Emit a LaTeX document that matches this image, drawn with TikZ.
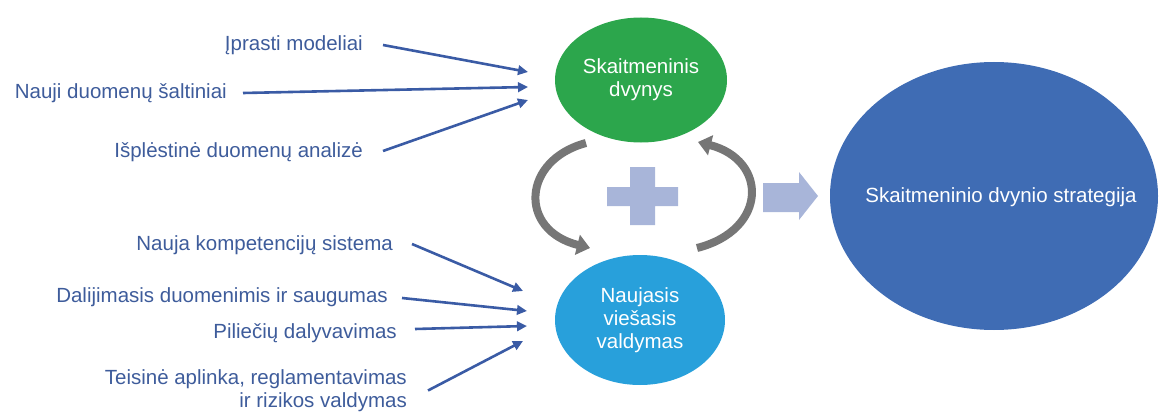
\documentclass[tikz,border=0pt]{standalone}
\usepackage{fontspec}
\setmainfont{Liberation Sans}
\usetikzlibrary{shapes.geometric,arrows.meta}
\definecolor{txtblue}{RGB}{62,92,155}
\definecolor{arrblue}{RGB}{58,91,165}
\definecolor{twgreen}{RGB}{44,166,76}
\definecolor{pubblue}{RGB}{40,160,219}
\definecolor{stratblue}{RGB}{63,108,180}
\definecolor{plusblue}{RGB}{168,181,217}
\definecolor{cyclegray}{RGB}{118,118,118}
\tikzset{
  lbl/.style={inner sep=0pt, text=txtblue, font=\fontsize{20.5}{23}\selectfont, text height=15.4pt, text depth=4.1pt, anchor=east},
  lbl2/.style={inner sep=0pt, text=txtblue, font=\fontsize{20.5}{23}\selectfont, align=right, anchor=east},
  conn/.style={draw=arrblue, line width=2.6pt, -{Triangle[length=10pt,width=9.5pt]}},
  blob/.style={ellipse, inner sep=0pt, text=white, align=center, font=\fontsize{20.5}{23}\selectfont},
  blobtext/.style={inner sep=0pt, text=white, align=center, font=\fontsize{20.5}{23}\selectfont},
  cyc/.style={draw=cyclegray, line width=8pt, -{Triangle[length=13pt,width=20pt]}},
  flat/.style={fill=plusblue, draw=none}
}
\begin{document}
\begin{tikzpicture}[x=1pt,y=-1pt]
\useasboundingbox (0,0) rectangle (1160,412);
% central nodes
\node[blob, fill=twgreen, minimum width=172pt, minimum height=125pt] (tw) at (641,80) {Skaitmeninis\\dvynys};
\node[blob, fill=pubblue, minimum width=170pt, minimum height=130pt] (pub) at (640,320) {Naujasis\\viešasis\\valdymas};
\node[blob, fill=stratblue, minimum width=328pt, minimum height=268pt] (strat) at (994,196) {};
\node[blobtext] (stratlbl) at ([xshift=7pt,yshift=-1pt]strat.center) {Skaitmeninio dvynio strategija};
% plus sign
\fill[flat] (630,167) -- (655,167) -- (655,187) -- (678,187) -- (678,206) -- (655,206) -- (655,225) -- (630,225) -- (630,206) -- (607,206) -- (607,187) -- (630,187) -- cycle;
% block arrow
\fill[flat] (763,183) -- (799,183) -- (799,172) -- (818,196) -- (799,220) -- (799,212) -- (763,212) -- cycle;
% cycle arrows
\coordinate (ls) at (586,143);
\coordinate (le) at (590,248);
\coordinate (rs) at (697,248);
\coordinate (re) at (698,142);
\draw[cyc] (ls) .. controls (522,160) and (518,230) .. (le);
\draw[cyc] (rs) .. controls (768,230) and (768,160) .. (re);
% labels upper
\node[lbl] (t1) at (363,45) {Įprasti modeliai};
\node[lbl] (t2) at (227,93) {Nauji duomenų šaltiniai};
\node[lbl] (t3) at (363,152) {Išplėstinė duomenų analizė};
% labels lower
\node[lbl] (t4) at (393,245) {Nauja kompetencijų sistema};
\node[lbl] (t5) at (388,297) {Dalijimasis duomenimis ir saugumas};
\node[lbl] (t6) at (397,333) {Piliečių dalyvavimas};
\node[lbl2] (t7) at (407,390.5) {Teisinė aplinka, reglamentavimas\\ir rizikos valdymas};
% arrow ends
\coordinate (e1) at (528,72);
\coordinate (e2) at (528,87);
\coordinate (e3) at (528,100);
\coordinate (e4) at (523,291);
\coordinate (e5) at (527,311);
\coordinate (e6) at (527,326);
\coordinate (e7) at (523,341);
\draw[conn] ([xshift=20pt]t1.east) -- (e1);
\draw[conn] ([xshift=16pt]t2.east) -- (e2);
\draw[conn] ([xshift=20pt,yshift=1pt]t3.east) -- (e3);
\draw[conn] ([xshift=19pt,yshift=1pt]t4.east) -- (e4);
\draw[conn] ([xshift=14pt,yshift=-1pt]t5.east) -- (e5);
\draw[conn] ([xshift=18pt,yshift=4pt]t6.east) -- (e6);
\draw[conn] ([xshift=21pt]t7.east) -- (e7);
\end{tikzpicture}
\end{document}
